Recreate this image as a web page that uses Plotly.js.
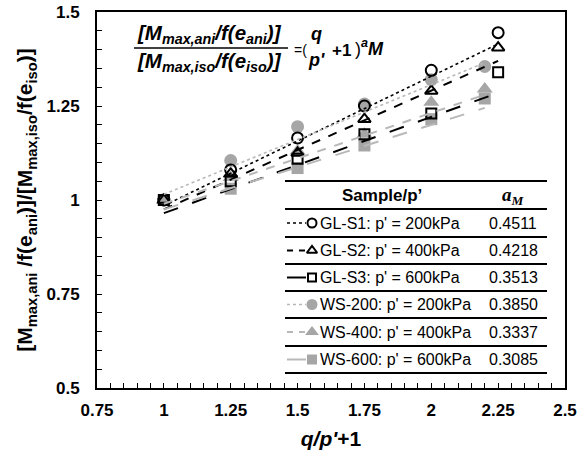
<!DOCTYPE html>
<html><head><meta charset="utf-8">
<script src="https://cdn.plot.ly/plotly-3.0.1.min.js"></script>
<style>body{margin:0;background:#fff}#c{width:580px;height:452px}</style>
</head><body><div id="c"></div>
<script>
// ---------- data ----------
const seriesNames = ["GL-S1: p' = 200kPa","GL-S2: p' = 400kPa","GL-S3: p' = 600kPa","WS-200: p' = 200kPa","WS-400: p' = 400kPa","WS-600: p' = 600kPa"];
const aMValues = ["0.4511","0.4218","0.3513","0.3850","0.3337","0.3085"];
const xGL = [1, 1.25, 1.5, 1.75, 2, 2.25];
const xWS = [1, 1.25, 1.5, 1.75, 2, 2.2];
const yGLS1 = [1, 1.08, 1.165, 1.25, 1.345, 1.445];
const yGLS2 = [1, 1.07, 1.125, 1.215, 1.29, 1.405];
const yGLS3 = [1, 1.05, 1.11, 1.175, 1.23, 1.34];
const yWS200 = [1, 1.105, 1.195, 1.255, 1.32, 1.355];
const yWS400 = [1, 1.06, 1.13, 1.175, 1.26, 1.295];
const yWS600 = [1, 1.03, 1.085, 1.145, 1.215, 1.27];
// trend lines (start / end values)
const trendXGL = [1, 2.25];
const trendXWS = [1, 2.2];
const trendGLS1 = [0.985, 1.415];
const trendGLS2 = [0.975, 1.37];
const trendGLS3 = [0.965, 1.285];
const trendWS200 = [1.015, 1.365];
const trendWS400 = [0.99, 1.28];
const trendWS600 = [0.975, 1.245];
const xTickVals = [0.75, 1, 1.25, 1.5, 1.75, 2, 2.25, 2.5];
const yTickVals = [0.5, 0.75, 1, 1.25, 1.5];

// ---------- styles ----------
const W = 580, H = 452, M = {l: 97, r: 15, t: 12, b: 64};
const PW = W - M.l - M.r, PH = H - M.t - M.b;
const px = v => (v - M.l) / PW;
const py = v => (H - M.b - v) / PH;
const BLK = '#000000', GRY = '#a6a6a6', GRYL = '#b8b8b8';
const FONT = 'Liberation Sans, Arial, sans-serif';

const styles = [
  {x: xGL, y: yGLS1, tx: trendXGL, ty: trendGLS1, dash: 'dot', lc: BLK, sym: 'circle-open', mc: BLK, ms: 11, lw: 1.6},
  {x: xGL, y: yGLS2, tx: trendXGL, ty: trendGLS2, dash: 'dash', lc: BLK, sym: 'triangle-up-open', mc: BLK, ms: 11, lw: 2},
  {x: xGL, y: yGLS3, tx: trendXGL, ty: trendGLS3, dash: 'longdash', lc: BLK, sym: 'square-open', mc: BLK, ms: 10, lw: 2},
  {x: xWS, y: yWS200, tx: trendXWS, ty: trendWS200, dash: 'dot', lc: GRYL, sym: 'circle', mc: GRY, ms: 13, lw: 1.6},
  {x: xWS, y: yWS400, tx: trendXWS, ty: trendWS400, dash: 'dash', lc: GRYL, sym: 'triangle-up', mc: GRY, ms: 14, lw: 2},
  {x: xWS, y: yWS600, tx: trendXWS, ty: trendWS600, dash: 'longdash', lc: GRYL, sym: 'square', mc: GRY, ms: 12, lw: 2}
];

const traces = [];
[3,4,5,0,1,2].forEach(i => {
  const s = styles[i];
  traces.push({x: s.x, y: s.y, type: 'scatter', mode: 'markers', showlegend: false, hoverinfo: 'skip',
    marker: {symbol: s.sym, size: s.ms, color: s.mc, line: {color: s.mc, width: s.sym.endsWith('open') ? 2 : 0}}});
});
styles.forEach(s => {
  traces.push({x: s.tx, y: s.ty, type: 'scatter', mode: 'lines', showlegend: false, hoverinfo: 'skip',
    line: {color: s.lc, dash: s.dash, width: s.lw}});
});

// ---------- legend table ----------
const legLeft = 285, legRight = 547;
const hLines = [181, 209, 237, 264, 291, 318, 346, 373];
const rowY = [223, 250.5, 277.5, 304.5, 332, 359.5];
const shapes = hLines.map(y => ({type: 'line', xref: 'paper', yref: 'paper', x0: px(legLeft), x1: px(legRight), y0: py(y), y1: py(y), line: {color: BLK, width: 2}}));
const annotations = [];
const ann = (x, y, text, font, xa) => annotations.push({xref: 'paper', yref: 'paper', x: px(x), y: py(y), text: text, showarrow: false,
  xanchor: xa || 'center', yanchor: 'middle', font: font});
ann(382, 195, "<b>Sample/p’</b>", {family: FONT, size: 17, color: BLK});
ann(513, 196, "<b><i>a<sub>M</sub></i></b>", {family: 'Liberation Serif, serif', size: 19, color: BLK});
styles.forEach((s, i) => {
  const yy = py(rowY[i]);
  traces.push({x: [px(287), px(306)], y: [yy, yy], xaxis: 'x2', yaxis: 'y2', type: 'scatter', mode: 'lines', showlegend: false, hoverinfo: 'skip',
    line: {color: s.lc, dash: s.dash === 'longdash' ? 'solid' : (s.dash === 'dash' ? '6px,6px' : s.dash), width: s.lw}});
  traces.push({x: [px(312)], y: [yy], xaxis: 'x2', yaxis: 'y2', type: 'scatter', mode: 'markers', showlegend: false, hoverinfo: 'skip',
    marker: {symbol: s.sym, size: s.ms - 2, color: s.mc, line: {color: s.mc, width: s.sym.endsWith('open') ? 2 : 0}}});
  ann(318, rowY[i], seriesNames[i], {family: FONT, size: 16, color: BLK}, 'left');
  ann(513, rowY[i], aMValues[i], {family: FONT, size: 16, color: BLK});
});

// ---------- equation ----------
const EQF = {family: FONT, size: 20.5, color: BLK};
ann(135, 34, "<b><i>[M<sub>max,ani</sub>/f(e<sub>ani</sub>)]</i></b>", EQF, 'left');
ann(135, 62, "<b><i>[M<sub>max,iso</sub>/f(e<sub>iso</sub>)]</i></b>", EQF, 'left');
shapes.push({type: 'line', xref: 'paper', yref: 'paper', x0: px(134), x1: px(288), y0: py(48), y1: py(48), line: {color: BLK, width: 1.5}});
ann(292, 50, "=(", {family: FONT, size: 14, color: BLK}, 'left');
ann(316, 34, "<b><i>q</i></b>", {family: FONT, size: 18, color: BLK});
ann(316, 60, "<b><i>p'</i></b>", {family: FONT, size: 18, color: BLK});
ann(330, 50, "<b>+1</b>", {family: FONT, size: 17, color: BLK}, 'left');
ann(353, 47, ")<sup><b><i>a</i></b></sup><b><i>M</i></b>", {family: FONT, size: 18, color: BLK}, 'left');

const axisCommon = {showline: true, linecolor: BLK, linewidth: 2, mirror: true, showgrid: false, zeroline: false,
  ticks: 'inside', ticklen: 5, tickwidth: 1, tickcolor: BLK,
  tickfont: {family: FONT, size: 17, color: BLK}};

const layout = {
  width: W, height: H, margin: M, paper_bgcolor: '#fff', plot_bgcolor: '#fff', showlegend: false,
  xaxis: Object.assign({}, axisCommon, {range: [0.75, 2.5], tickvals: xTickVals, ticktext: xTickVals.map(v => '<b>' + v + '</b>'),
    ticklabelstandoff: 6,
    minor: {dtick: 0.05, tick0: 0.75, ticks: 'inside', ticklen: 5, tickcolor: BLK},
    title: {text: "<b><i>q/p'</i>+1</b>", font: {family: FONT, size: 21, color: BLK}, standoff: 12}}),
  yaxis: Object.assign({}, axisCommon, {range: [0.5, 1.5], tickvals: yTickVals, ticktext: yTickVals.map(v => '<b>' + v + '</b>'),
    ticklabelstandoff: 12,
    minor: {dtick: 0.05, tick0: 0.5, ticks: 'inside', ticklen: 5, tickcolor: BLK},
    title: {text: "<b>[M<sub>max,ani</sub> /f(e<sub>ani</sub>)]/[M<sub>max,iso</sub>/f(e<sub>iso</sub>)]</b>", font: {family: FONT, size: 21, color: BLK}, standoff: 8}}),
  xaxis2: {overlaying: 'x', range: [0, 1], visible: false},
  yaxis2: {overlaying: 'y', range: [0, 1], visible: false},
  shapes: shapes, annotations: annotations
};
Plotly.newPlot('c', traces, layout, {displayModeBar: false, staticPlot: true});
</script></body></html>
